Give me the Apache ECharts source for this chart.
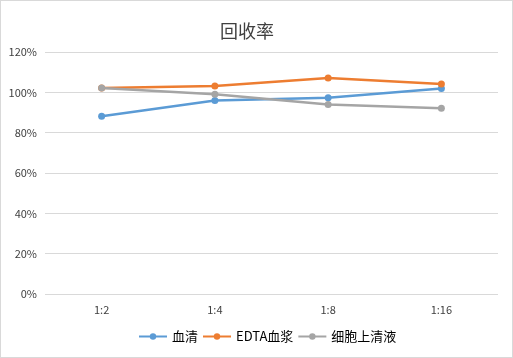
<!DOCTYPE html>
<html><head><meta charset="utf-8">
<script src="https://cdn.jsdelivr.net/npm/echarts@6/dist/echarts.min.js"></script>
<style>html,body{margin:0;padding:0;background:#fff}#c{width:513px;height:358px;box-sizing:border-box;border:1px solid #d9d9d9}</style>
</head><body><div id="c"></div>
<script>
const categories = ['1:2', '1:4', '1:8', '1:16'];
const serum = [88.1, 96.0, 97.3, 101.9];
const edta = [102.1, 103.1, 107.1, 104.1];
const supernatant = [102.1, 99.0, 94.0, 92.1];
const seriesNames = ['血清', 'EDTA血浆', '细胞上清液'];
const colors = ['#5B9BD5', '#ED7D31', '#A5A5A5'];
const font = '"Noto Sans CJK SC", "Noto Sans", sans-serif';
const chart = echarts.init(document.getElementById('c'));
const mk = (name, data, i) => ({
  name, type: 'line', data, symbol: 'circle', symbolSize: 7,
  lineStyle: { width: 2.5, color: colors[i] }, itemStyle: { color: colors[i] },
  emphasis: { disabled: true }, animation: false
});
chart.setOption({
  animation: false,
  title: { text: '回收率', left: 214, top: 16, textStyle: { fontFamily: font, fontSize: 18, fontWeight: 'normal', color: '#404040' } },
  legend: { bottom: 9, left: 132, itemWidth: 28, itemHeight: 8, itemGap: 4, textStyle: { fontFamily: font, fontSize: 13, color: '#000' }, data: seriesNames },
  grid: { left: 44, right: 14, top: 51, bottom: 63, containLabel: false },
  xAxis: { type: 'category', data: categories, boundaryGap: true,
    axisLine: { show: false }, axisTick: { show: false },
    axisLabel: { fontFamily: font, fontSize: 11, color: '#404040', margin: 10 } },
  yAxis: { type: 'value', min: 0, max: 120, interval: 20,
    axisLabel: { formatter: '{value}%', fontFamily: font, fontSize: 11, color: '#404040', margin: 8 },
    splitLine: { lineStyle: { color: '#d9d9d9', width: 1 } } },
  series: [mk(seriesNames[0], serum, 0), mk(seriesNames[1], edta, 1), mk(seriesNames[2], supernatant, 2)]
});
</script></body></html>
